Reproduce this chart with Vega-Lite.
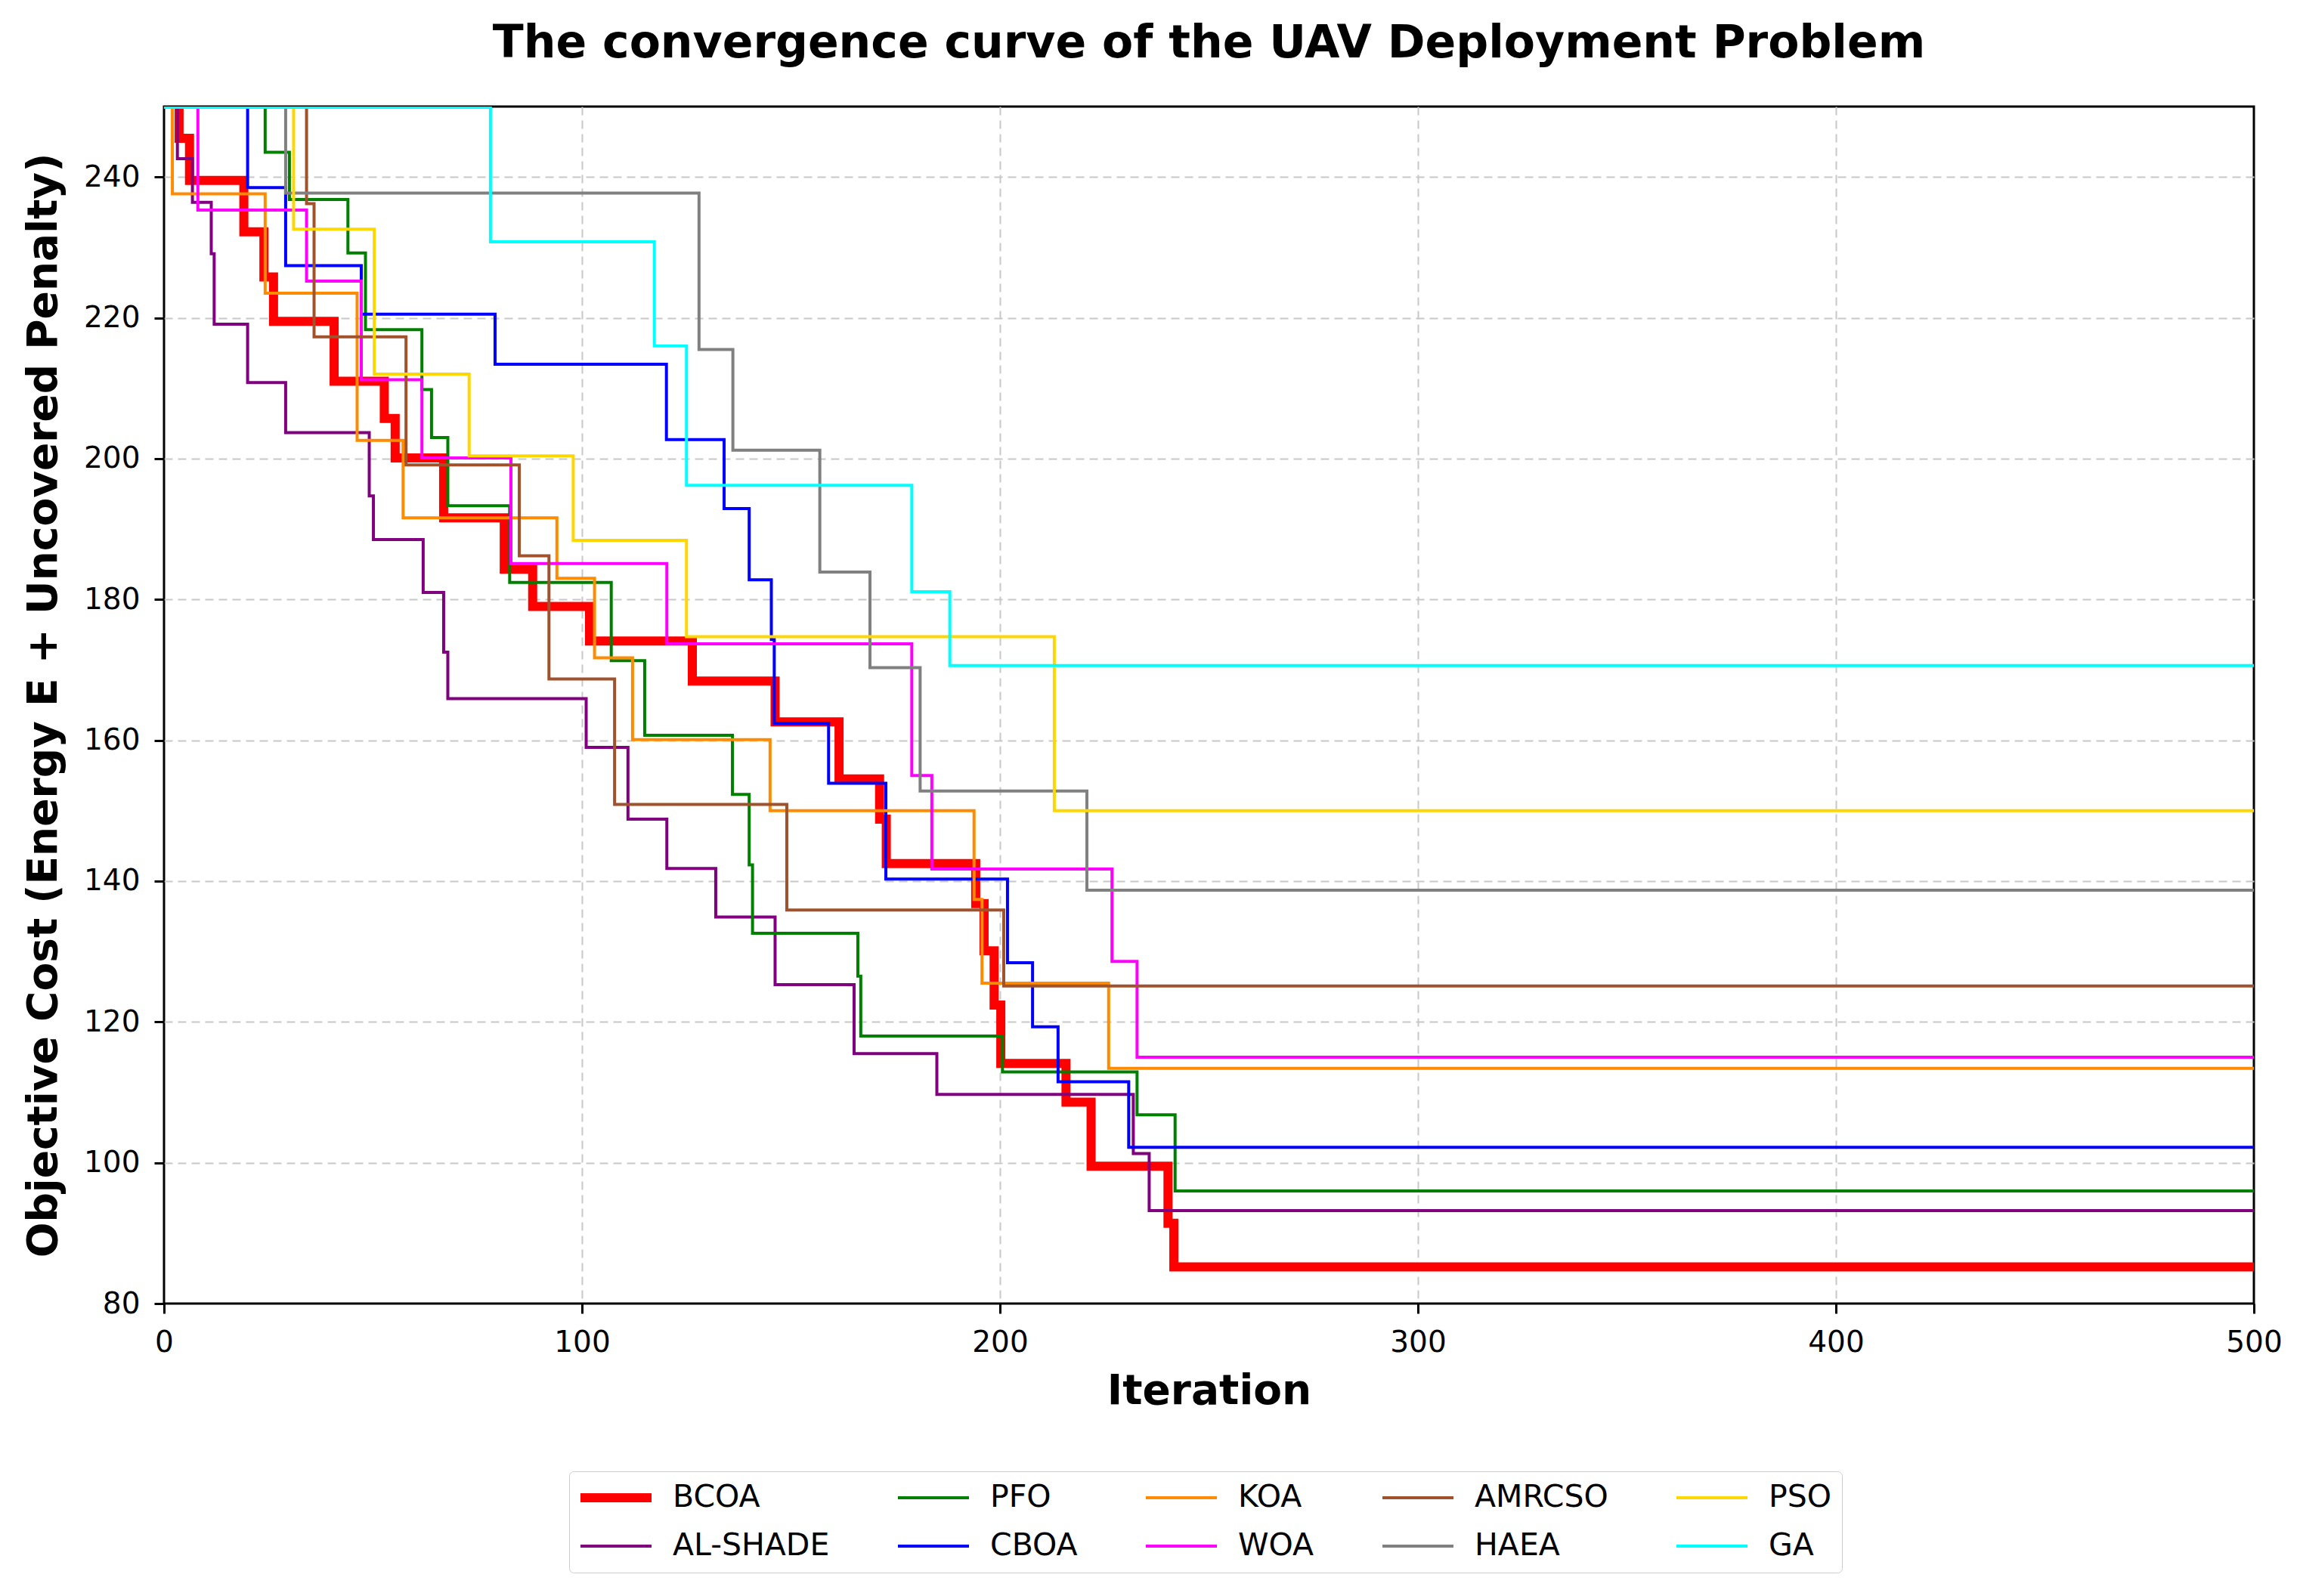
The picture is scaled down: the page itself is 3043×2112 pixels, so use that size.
{
  "$schema": "https://vega.github.io/schema/vega-lite/v6.json",
  "width": 2765,
  "height": 1584,
  "autosize": {"type": "none"},
  "padding": {"left": 217, "top": 141, "right": 61, "bottom": 387},
  "background": "white",
  "title": {
    "text": "The convergence curve of the UAV Deployment Problem",
    "font": "DejaVu Sans",
    "fontSize": 60,
    "fontWeight": "bold",
    "color": "black",
    "offset": 52
  },
  "config": {
    "view": {"stroke": "black", "strokeWidth": 3},
    "axis": {
      "domain": false,
      "labelFont": "DejaVu Sans",
      "labelFontSize": 39,
      "labelColor": "black",
      "labelFlush": false,
      "titleFont": "DejaVu Sans",
      "titleFontSize": 55,
      "titleFontWeight": "bold",
      "titleColor": "black",
      "tickColor": "black",
      "tickWidth": 3,
      "tickSize": 13,
      "labelPadding": 19,
      "gridColor": "#c8c8c8",
      "gridDash": [11, 7],
      "gridWidth": 2
    }
  },
  "data": {
    "values": [
      {"algorithm": "BCOA", "iteration": 0, "cost": 260},
      {"algorithm": "BCOA", "iteration": 3.6, "cost": 245.5},
      {"algorithm": "BCOA", "iteration": 6.1, "cost": 239.5},
      {"algorithm": "BCOA", "iteration": 19.1, "cost": 232.2},
      {"algorithm": "BCOA", "iteration": 23.9, "cost": 225.8},
      {"algorithm": "BCOA", "iteration": 26.2, "cost": 219.5},
      {"algorithm": "BCOA", "iteration": 40.7, "cost": 211},
      {"algorithm": "BCOA", "iteration": 52.7, "cost": 205.7},
      {"algorithm": "BCOA", "iteration": 55.3, "cost": 200.1},
      {"algorithm": "BCOA", "iteration": 66.9, "cost": 191.6},
      {"algorithm": "BCOA", "iteration": 81.4, "cost": 184.3},
      {"algorithm": "BCOA", "iteration": 88.2, "cost": 179},
      {"algorithm": "BCOA", "iteration": 101.8, "cost": 174.1},
      {"algorithm": "BCOA", "iteration": 126.4, "cost": 168.4},
      {"algorithm": "BCOA", "iteration": 146.2, "cost": 162.6},
      {"algorithm": "BCOA", "iteration": 161.5, "cost": 154.5},
      {"algorithm": "BCOA", "iteration": 171.2, "cost": 148.8},
      {"algorithm": "BCOA", "iteration": 172.8, "cost": 142.5},
      {"algorithm": "BCOA", "iteration": 194.2, "cost": 136.8},
      {"algorithm": "BCOA", "iteration": 196.2, "cost": 130.1},
      {"algorithm": "BCOA", "iteration": 198.6, "cost": 122.4},
      {"algorithm": "BCOA", "iteration": 200.2, "cost": 114.1},
      {"algorithm": "BCOA", "iteration": 215.8, "cost": 108.6},
      {"algorithm": "BCOA", "iteration": 221.8, "cost": 99.5},
      {"algorithm": "BCOA", "iteration": 240.2, "cost": 91.4},
      {"algorithm": "BCOA", "iteration": 241.6, "cost": 85.2},
      {"algorithm": "BCOA", "iteration": 500, "cost": 85.2},

      {"algorithm": "AL-SHADE", "iteration": 0, "cost": 260},
      {"algorithm": "AL-SHADE", "iteration": 3.2, "cost": 242.6},
      {"algorithm": "AL-SHADE", "iteration": 6.8, "cost": 236.4},
      {"algorithm": "AL-SHADE", "iteration": 11.3, "cost": 229.1},
      {"algorithm": "AL-SHADE", "iteration": 12, "cost": 219.1},
      {"algorithm": "AL-SHADE", "iteration": 20, "cost": 210.8},
      {"algorithm": "AL-SHADE", "iteration": 29.1, "cost": 203.7},
      {"algorithm": "AL-SHADE", "iteration": 49.1, "cost": 194.7},
      {"algorithm": "AL-SHADE", "iteration": 50.1, "cost": 188.5},
      {"algorithm": "AL-SHADE", "iteration": 62, "cost": 181},
      {"algorithm": "AL-SHADE", "iteration": 66.9, "cost": 172.5},
      {"algorithm": "AL-SHADE", "iteration": 67.9, "cost": 165.9},
      {"algorithm": "AL-SHADE", "iteration": 101, "cost": 159},
      {"algorithm": "AL-SHADE", "iteration": 111, "cost": 148.8},
      {"algorithm": "AL-SHADE", "iteration": 120.3, "cost": 141.8},
      {"algorithm": "AL-SHADE", "iteration": 132, "cost": 134.9},
      {"algorithm": "AL-SHADE", "iteration": 146.2, "cost": 125.3},
      {"algorithm": "AL-SHADE", "iteration": 165.1, "cost": 115.5},
      {"algorithm": "AL-SHADE", "iteration": 184.9, "cost": 109.7},
      {"algorithm": "AL-SHADE", "iteration": 231.9, "cost": 101.3},
      {"algorithm": "AL-SHADE", "iteration": 235.7, "cost": 93.2},
      {"algorithm": "AL-SHADE", "iteration": 500, "cost": 93.2},

      {"algorithm": "PFO", "iteration": 0, "cost": 260},
      {"algorithm": "PFO", "iteration": 24.2, "cost": 243.5},
      {"algorithm": "PFO", "iteration": 30, "cost": 236.8},
      {"algorithm": "PFO", "iteration": 44, "cost": 229.2},
      {"algorithm": "PFO", "iteration": 48.2, "cost": 218.3},
      {"algorithm": "PFO", "iteration": 61.7, "cost": 209.8},
      {"algorithm": "PFO", "iteration": 64, "cost": 203},
      {"algorithm": "PFO", "iteration": 67.9, "cost": 193.3},
      {"algorithm": "PFO", "iteration": 82.7, "cost": 182.4},
      {"algorithm": "PFO", "iteration": 107, "cost": 171.3},
      {"algorithm": "PFO", "iteration": 115, "cost": 160.7},
      {"algorithm": "PFO", "iteration": 136, "cost": 152.3},
      {"algorithm": "PFO", "iteration": 140, "cost": 142.3},
      {"algorithm": "PFO", "iteration": 140.8, "cost": 132.6},
      {"algorithm": "PFO", "iteration": 166, "cost": 126.5},
      {"algorithm": "PFO", "iteration": 166.7, "cost": 118},
      {"algorithm": "PFO", "iteration": 200.6, "cost": 112.9},
      {"algorithm": "PFO", "iteration": 232.8, "cost": 106.8},
      {"algorithm": "PFO", "iteration": 241.9, "cost": 96},
      {"algorithm": "PFO", "iteration": 500, "cost": 96},

      {"algorithm": "CBOA", "iteration": 0, "cost": 260},
      {"algorithm": "CBOA", "iteration": 20, "cost": 238.5},
      {"algorithm": "CBOA", "iteration": 29.1, "cost": 227.4},
      {"algorithm": "CBOA", "iteration": 47.2, "cost": 220.5},
      {"algorithm": "CBOA", "iteration": 79.2, "cost": 213.4},
      {"algorithm": "CBOA", "iteration": 120.2, "cost": 202.7},
      {"algorithm": "CBOA", "iteration": 134, "cost": 192.9},
      {"algorithm": "CBOA", "iteration": 140, "cost": 182.8},
      {"algorithm": "CBOA", "iteration": 145.3, "cost": 174.3},
      {"algorithm": "CBOA", "iteration": 146, "cost": 162.4},
      {"algorithm": "CBOA", "iteration": 159, "cost": 153.9},
      {"algorithm": "CBOA", "iteration": 172.7, "cost": 140.3},
      {"algorithm": "CBOA", "iteration": 201.8, "cost": 128.4},
      {"algorithm": "CBOA", "iteration": 207.8, "cost": 119.3},
      {"algorithm": "CBOA", "iteration": 213.9, "cost": 111.5},
      {"algorithm": "CBOA", "iteration": 230.8, "cost": 102.2},
      {"algorithm": "CBOA", "iteration": 500, "cost": 102.2},

      {"algorithm": "KOA", "iteration": 0, "cost": 260},
      {"algorithm": "KOA", "iteration": 2, "cost": 237.6},
      {"algorithm": "KOA", "iteration": 24.2, "cost": 223.5},
      {"algorithm": "KOA", "iteration": 46.2, "cost": 202.6},
      {"algorithm": "KOA", "iteration": 57.2, "cost": 191.6},
      {"algorithm": "KOA", "iteration": 94, "cost": 183},
      {"algorithm": "KOA", "iteration": 103, "cost": 171.7},
      {"algorithm": "KOA", "iteration": 112.1, "cost": 160.1},
      {"algorithm": "KOA", "iteration": 145, "cost": 150},
      {"algorithm": "KOA", "iteration": 193.8, "cost": 137.4},
      {"algorithm": "KOA", "iteration": 195.7, "cost": 125.5},
      {"algorithm": "KOA", "iteration": 226, "cost": 113.4},
      {"algorithm": "KOA", "iteration": 500, "cost": 113.4},

      {"algorithm": "WOA", "iteration": 0, "cost": 260},
      {"algorithm": "WOA", "iteration": 8.1, "cost": 235.3},
      {"algorithm": "WOA", "iteration": 34.1, "cost": 225.2},
      {"algorithm": "WOA", "iteration": 47.2, "cost": 211.2},
      {"algorithm": "WOA", "iteration": 61.7, "cost": 200.1},
      {"algorithm": "WOA", "iteration": 83, "cost": 185.1},
      {"algorithm": "WOA", "iteration": 120.3, "cost": 173.7},
      {"algorithm": "WOA", "iteration": 178.9, "cost": 155},
      {"algorithm": "WOA", "iteration": 183.7, "cost": 141.7},
      {"algorithm": "WOA", "iteration": 226.8, "cost": 128.6},
      {"algorithm": "WOA", "iteration": 232.8, "cost": 115},
      {"algorithm": "WOA", "iteration": 500, "cost": 115},

      {"algorithm": "AMRCSO", "iteration": 0, "cost": 260},
      {"algorithm": "AMRCSO", "iteration": 34.1, "cost": 236.2},
      {"algorithm": "AMRCSO", "iteration": 35.9, "cost": 217.3},
      {"algorithm": "AMRCSO", "iteration": 57.9, "cost": 199.1},
      {"algorithm": "AMRCSO", "iteration": 85, "cost": 186.2},
      {"algorithm": "AMRCSO", "iteration": 92.1, "cost": 168.7},
      {"algorithm": "AMRCSO", "iteration": 107.8, "cost": 150.9},
      {"algorithm": "AMRCSO", "iteration": 149, "cost": 135.9},
      {"algorithm": "AMRCSO", "iteration": 200.9, "cost": 125.1},
      {"algorithm": "AMRCSO", "iteration": 500, "cost": 125.1},

      {"algorithm": "HAEA", "iteration": 0, "cost": 260},
      {"algorithm": "HAEA", "iteration": 29.1, "cost": 237.7},
      {"algorithm": "HAEA", "iteration": 128, "cost": 215.5},
      {"algorithm": "HAEA", "iteration": 136.1, "cost": 201.2},
      {"algorithm": "HAEA", "iteration": 156.9, "cost": 183.9},
      {"algorithm": "HAEA", "iteration": 168.9, "cost": 170.3},
      {"algorithm": "HAEA", "iteration": 180.9, "cost": 152.8},
      {"algorithm": "HAEA", "iteration": 220.8, "cost": 138.7},
      {"algorithm": "HAEA", "iteration": 500, "cost": 138.7},

      {"algorithm": "PSO", "iteration": 0, "cost": 260},
      {"algorithm": "PSO", "iteration": 31, "cost": 232.6},
      {"algorithm": "PSO", "iteration": 50.3, "cost": 212},
      {"algorithm": "PSO", "iteration": 73, "cost": 200.4},
      {"algorithm": "PSO", "iteration": 97.9, "cost": 188.4},
      {"algorithm": "PSO", "iteration": 125, "cost": 174.7},
      {"algorithm": "PSO", "iteration": 213, "cost": 150},
      {"algorithm": "PSO", "iteration": 500, "cost": 150},

      {"algorithm": "GA", "iteration": 0, "cost": 249.9},
      {"algorithm": "GA", "iteration": 78.1, "cost": 230.8},
      {"algorithm": "GA", "iteration": 117.3, "cost": 216},
      {"algorithm": "GA", "iteration": 125, "cost": 196.2},
      {"algorithm": "GA", "iteration": 178.9, "cost": 181.1},
      {"algorithm": "GA", "iteration": 188, "cost": 170.6},
      {"algorithm": "GA", "iteration": 500, "cost": 170.6}
    ]
  },
  "encoding": {
    "x": {
      "field": "iteration",
      "type": "quantitative",
      "title": "Iteration",
      "scale": {"domain": [0, 500], "nice": false},
      "axis": {
        "values": [0, 100, 200, 300, 400, 500],
        "titlePadding": 18,
        "gridOpacity": {"condition": {"test": "datum.value === 0 || datum.value === 500", "value": 0}, "value": 1}
      }
    },
    "y": {
      "field": "cost",
      "type": "quantitative",
      "title": "Objective Cost (Energy E + Uncovered Penalty)",
      "scale": {"domain": [80, 250], "nice": false, "zero": false},
      "axis": {
        "values": [80, 100, 120, 140, 160, 180, 200, 220, 240],
        "titlePadding": 24,
        "gridOpacity": {"condition": {"test": "datum.value === 80", "value": 0}, "value": 1}
      }
    },
    "color": {
      "field": "algorithm",
      "type": "nominal",
      "scale": {
        "domain": ["BCOA", "PFO", "KOA", "AMRCSO", "PSO", "AL-SHADE", "CBOA", "WOA", "HAEA", "GA"],
        "range": ["#ff0000", "#008000", "#ff8c00", "#a0522d", "#ffd700", "#800080", "#0000ff", "#ff00ff", "#808080", "#00ffff"]
      },
      "legend": {
        "title": null,
        "orient": "none",
        "legendX": 536,
        "legendY": 1806,
        "direction": "horizontal",
        "columns": 5,
        "columnPadding": 88,
        "rowPadding": 20,
        "padding": 13,
        "strokeColor": "#cccccc",
        "cornerRadius": 6,
        "fillColor": "white",
        "labelFont": "DejaVu Sans",
        "labelFontSize": 41,
        "labelColor": "black",
        "labelLimit": 0,
        "labelOffset": 26,
        "symbolType": "stroke",
        "symbolSize": 8836,
        "symbolStrokeWidth": 4,
        "clipHeight": 44,
        "encode": {
          "symbols": {
            "update": {"strokeWidth": {"signal": "(datum.value === 'BCOA' ? 12 : 4)"}}
          }
        }
      }
    }
  },
  "layer": [
    {
      "transform": [{"filter": "datum.algorithm === 'BCOA'"}],
      "mark": {"type": "line", "interpolate": "step-after", "clip": true, "strokeWidth": 12}
    },
    {
      "transform": [{"filter": "datum.algorithm !== 'BCOA'"}],
      "mark": {"type": "line", "interpolate": "step-after", "clip": true, "strokeWidth": 4}
    }
  ]
}
